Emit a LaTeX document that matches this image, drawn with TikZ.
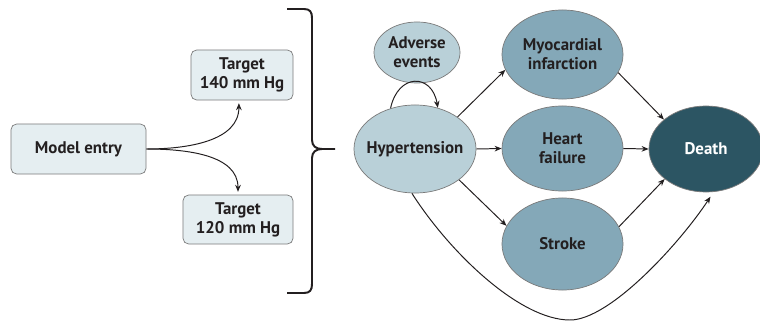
\documentclass[tikz,border=0pt]{standalone}
\usepackage{fontspec}
\setmainfont{PT Sans}
\usetikzlibrary{arrows.meta,shapes.geometric}
\definecolor{ink}{HTML}{231F20}
\definecolor{edge}{HTML}{7A7A7A}
\definecolor{boxfill}{HTML}{E5EEF1}
\definecolor{lightstate}{HTML}{B9D0D8}
\definecolor{midstate}{HTML}{84A8B8}
\definecolor{deadstate}{HTML}{2C5563}

\begin{document}
\begin{tikzpicture}[x=0.025cm,y=0.025cm,>={Stealth[length=5pt,width=4pt]},font=\fontsize{12}{13.5}\selectfont\bfseries,
  entrybox/.style={draw=edge,line width=0.5pt,fill=boxfill,rounded corners=4pt,align=center,text=ink,inner sep=0pt},
  state/.style={ellipse,draw=edge,line width=0.5pt,align=center,text=ink,inner xsep=-12pt,inner ysep=-8pt},
  link/.style={->,line width=0.7pt,ink}]
\useasboundingbox (0,0) rectangle (760,323);
% strategy boxes
\node[entrybox,minimum width=3.375cm,minimum height=1.25cm] (entry) at (78.5,174) {Model entry};
\node[entrybox,minimum width=2.55cm,minimum height=1.25cm] (t140) at (242,248) {Target\\140 mm Hg};
\node[entrybox,minimum width=2.75cm,minimum height=1.225cm] (t120) at (238,103.5) {Target\\120 mm Hg};
\draw[link,shorten >=2pt] (entry.east) to[out=0,in=-90] (t140.263);
\draw[link,shorten >=2pt] (entry.east) to[out=0,in=90] (t120.north);
% brace
\draw[line width=1.4pt,ink] (287,314) -- (304,314) .. controls (310,314) and (312,311) .. (312,305) -- (312,183)
  .. controls (312,177) and (316,174) .. (322,174) -- (335,174);
\draw[line width=1.4pt,ink] (322,174) .. controls (316,174) and (312,171) .. (312,165) -- (312,39)
  .. controls (312,33) and (310,30) .. (304,30) -- (287,30);
% health states
\node[state,fill=lightstate,minimum width=2.15cm,minimum height=1.525cm] (adverse) at (417,270.5) {Adverse\\events};
\node[state,fill=lightstate,minimum width=3.05cm,minimum height=2.2cm] (hyp) at (415,174) {Hypertension};
\node[state,fill=midstate,minimum width=3.025cm,minimum height=2.225cm] (mi) at (562.5,268.5) {Myocardial\\infarction};
\node[state,fill=midstate,minimum width=3.025cm,minimum height=2.125cm] (hf) at (562.5,174.5) {Heart\\failure};
\node[state,fill=midstate,minimum width=3.025cm,minimum height=2.3cm] (stroke) at (562.5,79) {Stroke};
\node[state,fill=deadstate,text=white,minimum width=2.85cm,minimum height=2.15cm] (death) at (706,174) {Death};
\coordinate (dip) at (570,3);
% transitions
\draw[link] (hyp.121) .. controls (398,250) and (432,250) .. (hyp.61);
\draw[link] (hyp.37) -- (mi.195);
\draw[link] (hyp.east) -- (hf.west);
\draw[link] (hyp.325) -- (stroke.162);
\draw[link] (mi.342) -- (death.145);
\draw[link] (hf.east) -- (death.west);
\draw[link] (stroke.17) -- (death.216);
\draw[link,shorten >=4pt] (hyp.266) .. controls (450,70) and (520,3) .. (dip)
  .. controls (610,3) and (680,80) .. (death.280);
\end{tikzpicture}
\end{document}
